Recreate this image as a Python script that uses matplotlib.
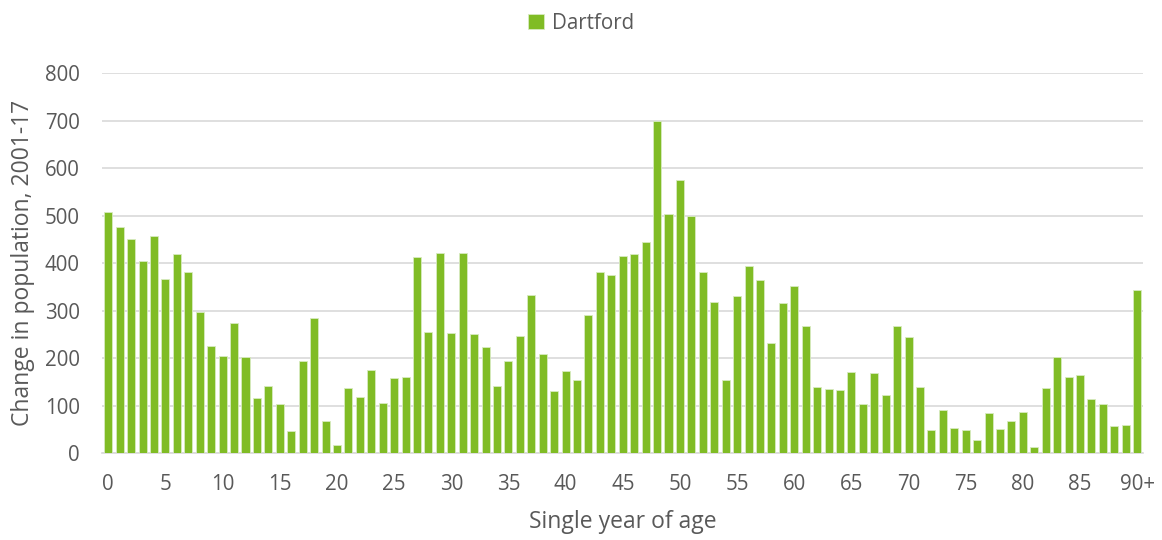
import numpy as np
import matplotlib
matplotlib.use('Agg')
import matplotlib.pyplot as plt

plt.rcParams['font.family'] = ['Open Sans', 'DejaVu Sans']

# Change in population by single year of age, Dartford 2001-17
ages = list(range(91))
change = [508, 476, 451, 405, 456, 367, 418, 381, 296, 226,
          205, 273, 203, 115, 142, 104, 47, 194, 285, 67,
          18, 136, 119, 174, 106, 157, 161, 412, 255, 422,
          252, 422, 250, 223, 142, 193, 247, 333, 208, 130,
          172, 154, 291, 381, 374, 414, 419, 445, 699, 504,
          575, 500, 381, 318, 154, 331, 393, 364, 231, 316,
          352, 267, 139, 135, 132, 171, 103, 169, 123, 267,
          245, 140, 49, 90, 53, 48, 27, 84, 50, 67,
          87, 12, 136, 203, 161, 164, 114, 103, 57, 59,
          344]
tick_pos = list(range(0, 91, 5))
tick_labels = [str(t) for t in range(0, 90, 5)] + ['90+']

green = '#80BC25'
grey = '#595959'

fig = plt.figure(figsize=(11.62, 5.4), dpi=100)
ax = fig.add_axes([0.0878, 0.161, 0.8958, 0.7038])

ax.bar(ages, change, width=0.7, color=green, edgecolor='#d8ebc0', linewidth=0.6,
       label='Dartford', zorder=3)

ax.set_xlim(-0.55, 90.5)
ax.set_ylim(0, 800)
ax.set_yticks(range(0, 801, 100))
ax.set_xticks(tick_pos)
ax.set_xticklabels(tick_labels)
ax.yaxis.grid(True, color='#d9d9d9', linewidth=1.2, zorder=0)
ax.set_axisbelow(True)
for s in ['top', 'right', 'left']:
    ax.spines[s].set_visible(False)
ax.spines['bottom'].set_color('#d9d9d9')
ax.spines['bottom'].set_linewidth(1.2)
ax.tick_params(axis='both', length=0, labelsize=14.8, colors=grey)
ax.tick_params(axis='y', pad=16)
ax.tick_params(axis='x', pad=15)

ax.set_xlabel('Single year of age', fontsize=16.5, color=grey, labelpad=11)
ax.set_ylabel('Change in population, 2001-17', fontsize=16.5, color=grey, labelpad=7)

fig.legend(loc='upper center', bbox_to_anchor=(0.5, 1.01), frameon=False,
           fontsize=14.8, labelcolor=grey, handlelength=0.75, handleheight=0.75,
           handletextpad=0.4)

fig.savefig('out.png', dpi=100)
